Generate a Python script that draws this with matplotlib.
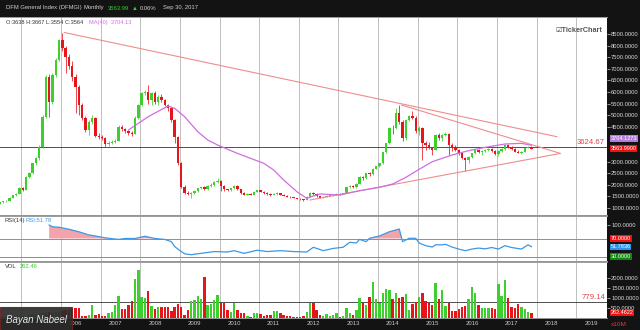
import numpy as np
import matplotlib.pyplot as plt
from matplotlib.patches import Rectangle
from matplotlib.transforms import blended_transform_factory

plt.rcParams['font.family'] = ['Liberation Sans', 'DejaVu Sans']

# monthly bars, month 0 = Apr 2004, last = Sep 2017
opens = [1190, 1240, 1280, 1310, 1440, 1540, 1610, 1860, 1790, 2350, 2490, 2920, 3140, 3640, 4940, 6660,
         5580, 6730, 7400, 8240, 7900, 7500, 7100, 6660, 6230, 5440, 4860, 4360, 4700, 4860, 4100, 4070,
         4000, 3750, 3800, 3850, 3900, 4500, 4400, 4300, 4250, 4200, 4900, 5440, 5940, 6010, 5650, 5940,
         5580, 5800, 5650, 5440, 5290, 4790, 4070, 2920, 1920, 1650, 1600, 1650, 1720, 1850, 1900, 1820,
         1950, 2000, 2100, 2180, 1950, 1800, 1780, 1850, 1950, 1800, 1650, 1580, 1620, 1580, 1700, 1760,
         1700, 1650, 1600, 1560, 1600, 1640, 1580, 1520, 1480, 1460, 1430, 1400, 1380, 1350, 1480, 1650,
         1600, 1500, 1450, 1480, 1520, 1540, 1580, 1620, 1600, 1640, 1900, 1950, 1900, 2050, 2350, 2280,
         2500, 2450, 2700, 2800, 2920, 3400, 3790, 4450, 4430, 5100, 4700, 4000, 4800, 4950, 4900, 4300,
         4450, 3790, 3700, 3600, 3500, 4150, 4000, 4150, 4200, 3700, 3600, 3500, 3350, 3150, 3050, 3200,
         3350, 3500, 3400, 3450, 3500, 3560, 3470, 3330, 3450, 3530, 3700, 3640, 3560, 3430, 3390, 3420,
         3600, 3638]
highs = [1260, 1295, 1335, 1470, 1570, 1650, 1890, 1910, 2390, 2560, 2960, 3200, 3700, 5020, 6720, 6780,
         6820, 7460, 8300, 8560, 8000, 7620, 7320, 6760, 6320, 5520, 4960, 4810, 5010, 4920, 4220, 4160,
         4080, 3880, 3920, 3990, 4560, 4580, 4460, 4380, 4300, 4950, 5480, 5980, 6100, 6300, 5980, 6040,
         5850, 5900, 5700, 5500, 5330, 4850, 4120, 3000, 2000, 1720, 1680, 1760, 1880, 1960, 1940, 1990,
         2060, 2150, 2300, 2210, 1990, 1840, 1880, 1990, 1970, 1830, 1680, 1650, 1640, 1730, 1790, 1780,
         1720, 1680, 1630, 1630, 1670, 1660, 1600, 1550, 1510, 1480, 1450, 1420, 1400, 1500, 1700, 1680,
         1630, 1530, 1500, 1540, 1560, 1600, 1640, 1640, 1660, 1920, 1980, 1970, 2080, 2380, 2400, 2520,
         2560, 2730, 2830, 2960, 3420, 3820, 4480, 4560, 5300, 5440, 4780, 4850, 5000, 5200, 4950, 4550,
         4480, 3900, 3850, 3650, 4200, 4250, 4180, 4280, 4250, 3780, 3700, 3560, 3400, 3200, 3250, 3380,
         3550, 3540, 3480, 3540, 3600, 3580, 3500, 3480, 3580, 3740, 3750, 3680, 3600, 3480, 3450, 3620,
         3660, 3667]
lows = [1170, 1225, 1260, 1295, 1420, 1515, 1600, 1750, 1780, 2290, 2460, 2870, 3090, 3590, 4880, 4940,
        5480, 6640, 7340, 7780, 6800, 6980, 6480, 5080, 5020, 4780, 4280, 4140, 4640, 4040, 3990, 3940,
        3640, 3680, 3740, 3790, 3880, 4330, 4220, 4150, 4120, 4180, 4850, 5400, 5850, 5500, 5450, 5500,
        5420, 5580, 5380, 5200, 4720, 3780, 2850, 1880, 1610, 1560, 1430, 1600, 1690, 1800, 1760, 1790,
        1900, 1960, 2060, 1750, 1740, 1720, 1750, 1820, 1780, 1620, 1540, 1550, 1550, 1560, 1680, 1670,
        1620, 1570, 1530, 1540, 1580, 1560, 1500, 1460, 1440, 1410, 1380, 1360, 1300, 1330, 1460, 1580,
        1480, 1420, 1430, 1460, 1500, 1520, 1560, 1580, 1590, 1630, 1870, 1860, 1880, 2030, 2220, 2260,
        2400, 2430, 2680, 2780, 2900, 3380, 3770, 4200, 4400, 4600, 3900, 3950, 4750, 4850, 4250, 4150,
        3050, 3500, 3550, 3300, 3480, 3950, 3900, 4100, 3300, 3450, 3450, 3280, 3100, 2600, 2950, 3150,
        3320, 3350, 3300, 3420, 3470, 3420, 3300, 3250, 3420, 3500, 3600, 3520, 3400, 3350, 3330, 3400,
        3570, 3554]
closes = [1240, 1280, 1310, 1440, 1540, 1610, 1860, 1790, 2350, 2490, 2920, 3140, 3640, 4940, 6660, 5580,
          6730, 7400, 8240, 7900, 7500, 7100, 6660, 6230, 5440, 4860, 4360, 4700, 4860, 4100, 4070, 4000,
          3750, 3800, 3850, 3900, 4500, 4400, 4300, 4250, 4200, 4900, 5440, 5940, 6010, 5650, 5940, 5580,
          5800, 5650, 5440, 5290, 4790, 4070, 2920, 1920, 1650, 1600, 1650, 1720, 1850, 1900, 1820, 1950,
          2000, 2100, 2180, 1950, 1800, 1780, 1850, 1950, 1800, 1650, 1580, 1620, 1580, 1700, 1760, 1700,
          1650, 1600, 1560, 1600, 1640, 1580, 1520, 1480, 1460, 1430, 1400, 1380, 1350, 1480, 1650, 1600,
          1500, 1450, 1480, 1520, 1540, 1580, 1620, 1600, 1640, 1900, 1950, 1900, 2050, 2350, 2280, 2500,
          2450, 2700, 2800, 2920, 3400, 3790, 4450, 4430, 5100, 4700, 4000, 4800, 4950, 4900, 4300, 4450,
          3790, 3700, 3600, 3500, 4150, 4000, 4150, 4200, 3700, 3600, 3500, 3350, 3150, 3050, 3200, 3350,
          3500, 3400, 3450, 3500, 3560, 3470, 3330, 3450, 3530, 3700, 3640, 3560, 3430, 3390, 3420, 3600,
          3638, 3564]
# volume in units of 10M shares
volumes = [30, 40, 35, 50, 60, 70, 90, 80, 120, 150, 200, 180, 220, 260, 300, 280,
           250, 300, 320, 350, 380, 400, 450, 480, 480, 100, 100, 150, 650, 150, 180, 120,
           100, 270, 320, 650, 1100, 450, 450, 650, 870, 1930, 2400, 1070, 980, 1350, 600, 450,
           530, 570, 570, 570, 370, 570, 700, 530, 150, 400, 870, 900, 1100, 930, 2070, 650,
           700, 900, 1150, 730, 770, 400, 320, 770, 400, 270, 230, 100, 30, 270, 270, 200,
           100, 130, 130, 330, 330, 270, 150, 100, 100, 70, 70, 70, 100, 320, 730, 730,
           400, 150, 100, 200, 100, 150, 230, 30, 100, 480, 270, 150, 400, 980, 730, 650,
           1030, 1780, 930, 730, 1230, 1430, 1400, 930, 1270, 980, 1070, 1200, 400, 700, 820, 1070,
           1230, 870, 770, 650, 1770, 930, 1400, 600, 730, 370, 370, 430, 530, 600, 930, 1530,
           1230, 650, 480, 480, 480, 480, 450, 1680, 1100, 1900, 1020, 530, 480, 700, 530, 450,
           320, 262.46]

ma_months = [39, 45, 51, 53, 56, 60, 63, 66, 72, 80, 83, 86, 90, 93, 95, 97, 103, 109, 115, 119,
             123, 127, 131, 137, 142, 147, 153, 158, 161]
ma_values = [4360, 4936, 5396, 5295, 4936, 4289, 3930, 3714, 3355, 2924, 2637, 2205, 1703, 1415, 1516,
             1603, 1560, 1746, 1890, 2034, 2321, 2666, 2996, 3284, 3471, 3614, 3758, 3787, 3704.13]

rsi_months = [15, 16, 18, 21, 24, 27, 29, 31, 33, 36, 38, 41, 44, 47, 50, 52, 53, 55, 56, 58, 61, 65,
              69, 71, 74, 78, 81, 85, 89, 93, 95, 98, 101, 104, 106, 108, 109, 111, 112, 115, 118, 121,
              122, 124, 126, 127, 129, 130, 131, 132, 134, 135, 137, 139, 141, 143, 145, 147, 149, 151,
              153, 155, 158, 160, 161]
rsi_values = [100, 96, 95, 90.5, 85, 78, 75.6, 72.7, 70.5, 68, 70, 70, 75, 70, 68, 63, 52, 41, 36, 34,
              37, 41, 40, 43, 37, 44, 41, 43, 41, 40, 50.5, 43, 48, 50.5, 61.6, 60, 68, 63, 70.5, 75.6,
              85, 91, 63, 70.5, 70.5, 60, 54, 52.6, 51, 56, 56, 57, 51, 46.5, 42.8, 46.5, 48.7, 47, 50,
              46.5, 54, 50, 46.5, 56, 51.78]

# drawn trend lines: (month, price) end points
trend_upper = [(19.6, 8564), (168.7, 4074)]
trend_upper2 = [(121.7, 5439), (169.7, 3356)]
trend_lower = [(94.0, 1345), (169.7, 3349)]
price_level = 3624.67
vol_level = 779.14

# right scale ticks; 3500 and 4000 sit under the last-value tags
price_ticks = [1000, 1500, 2000, 2500, 3000, 4500, 5000, 5500, 6000, 6500, 7000, 7500, 8000, 8500]
years = list(range(2005, 2020))

GREEN = '#3ccf2e'
RED = '#e8141c'
TREND = '#f08c8c'
GRID = '#b4b4b4'
XLIM = (0.12, 183.9)


def setup_panel(ax, ylim):
    ax.set_facecolor('white')
    ax.set_xlim(*XLIM)
    ax.set_ylim(*ylim)
    for side in ['left', 'right']:
        ax.spines[side].set_visible(False)
    for side in ['top', 'bottom']:
        ax.spines[side].set_color('#9a9a9a')
        ax.spines[side].set_linewidth(0.7)
    ax.set_xticks([])
    ax.yaxis.tick_right()
    ax.tick_params(axis='y', direction='out', length=2, width=0.5, color='#cfcfcf',
                   labelcolor='#d8d8d8', labelsize=4.2, pad=1)
    # year separators
    for k in range(len(years)):
        ax.axvline(6.6 + 12 * k, color=GRID, lw=0.6, zorder=0)


def value_box(ax, value, text, bg, fg='white'):
    tr = blended_transform_factory(ax.transAxes, ax.transData)
    ax.text(1.006, value, text, transform=tr, ha='left', va='center', fontsize=4.0, color=fg,
            clip_on=False, zorder=10,
            bbox=dict(boxstyle='square,pad=0.12', facecolor=bg, edgecolor='none'))


def draw_price(ax):
    setup_panel(ax, (698, 9232))
    ax.set_yticks(price_ticks)
    ax.yaxis.set_major_formatter(plt.FormatStrFormatter('%.4f'))
    m = np.arange(len(closes))
    o = np.array(opens)
    c = np.array(closes)
    up = c >= o
    colors = np.where(up, GREEN, RED)
    ax.vlines(m, lows, highs, colors=colors, lw=0.55, zorder=2)
    ax.bar(m, np.abs(c - o), bottom=np.minimum(o, c), width=0.72, color=colors, lw=0, zorder=3)

    for line in [trend_upper, trend_upper2, trend_lower]:
        xs, ys = zip(*line)
        ax.plot(xs, ys, color=TREND, lw=0.8, zorder=4)
    ax.plot(ma_months, ma_values, color='#cf6ee0', lw=0.9, zorder=5)
    ax.axhline(price_level, color='#333333', lw=0.6, zorder=1)
    tr = blended_transform_factory(ax.transAxes, ax.transData)
    ax.text(0.997, price_level + 60, '{:.2f}'.format(price_level), transform=tr, ha='right',
            va='bottom', fontsize=5.6, color='#e0474c')

    value_box(ax, closes[-1] + 430, '3704.1273', '#b77be0')
    value_box(ax, closes[-1], '3563.9900', '#ee1111')

    ax.text(0.01, 0.985, 'O:3638 H:3667 L:3554 C:3564', transform=ax.transAxes, fontsize=4.1,
            color='#333333', va='top')
    ax.text(0.147, 0.985, 'MA(40)  3704.13', transform=ax.transAxes, fontsize=4.1,
            color='#cf6ee0', va='top')
    ax.text(0.993, 0.93, '\u2611TickerChart', transform=ax.transAxes, fontsize=5.2,
            color='#555555', fontweight='bold', ha='right', va='center')


def draw_rsi(ax):
    setup_panel(ax, (20, 120))
    ax.set_yticks([100])
    ax.yaxis.set_major_formatter(plt.FormatStrFormatter('%.4f'))
    x = np.array(rsi_months, dtype=float)
    r = np.array(rsi_values)
    ax.axhline(70, color='#e66a6a', lw=0.7, zorder=1)
    ax.axhline(30, color='#56b356', lw=0.7, zorder=1)
    ax.fill_between(x, r, 70, where=r >= 70, interpolate=True, color='#f5a3aa', lw=0, zorder=2)
    ax.plot(x, r, color='#3a98e6', lw=0.9, zorder=3)
    value_box(ax, 70, '70.0000', '#ee1111')
    value_box(ax, rsi_values[-1], '51.7836', '#2f93e8')
    value_box(ax, 30, '30.0000', '#118811')
    ax.text(0.008, 0.96, 'RSI(14)', transform=ax.transAxes, fontsize=4.2, color='#333333', va='top')
    ax.text(0.042, 0.96, 'RSI:51.78', transform=ax.transAxes, fontsize=4.2, color='#3a98e6', va='top')


def draw_volume(ax):
    setup_panel(ax, (0, 2800))
    ax.set_yticks([500, 1000, 1500, 2000])
    ax.yaxis.set_major_formatter(plt.FormatStrFormatter('%.4f'))
    m = np.arange(len(volumes))
    up = np.array(closes) >= np.array(opens)
    ax.bar(m, volumes, width=0.72, color=np.where(up, GREEN, RED), lw=0, zorder=2)
    ax.axhline(vol_level, color='#333333', lw=0.6, zorder=1)
    tr = blended_transform_factory(ax.transAxes, ax.transData)
    ax.text(0.997, vol_level + 60, '{:.2f}'.format(vol_level), transform=tr, ha='right',
            va='bottom', fontsize=5.6, color='#e0474c')
    value_box(ax, volumes[-1], '262.4622', '#ee1111')
    ax.text(1.006, -0.12, 'x10M', transform=ax.transAxes, fontsize=4.6, color='#ee3333',
            ha='left', va='center')
    ax.text(0.008, 0.97, 'VOL', transform=ax.transAxes, fontsize=4.2, color='#333333', va='top')
    ax.text(0.032, 0.97, '262.46', transform=ax.transAxes, fontsize=4.2, color=GREEN, va='top')

    # year labels on the dark strip under the chart (2005 sits under the signature box)
    tr = blended_transform_factory(ax.transData, ax.transAxes)
    for y in years[1:]:
        ax.text(9 + 12 * (y - 2005), -0.1, str(y), transform=tr, fontsize=4.3, color='#c9c9c9',
                ha='left', va='center', clip_on=False)


def main():
    fig = plt.figure(figsize=(6.4, 3.3), dpi=100)
    fig.patch.set_facecolor('#131313')
    w = 607 / 640
    ax_price = fig.add_axes([0, 115 / 330, w, 198 / 330])
    ax_rsi = fig.add_axes([0, 69 / 330, w, 45 / 330])
    ax_vol = fig.add_axes([0, 12 / 330, w, 56 / 330])

    draw_price(ax_price)
    draw_rsi(ax_rsi)
    draw_volume(ax_vol)

    # header strip
    y = 1 - 8 / 330
    fig.text(0.009, y, 'DFM General Index (DFMGI)', fontsize=4.2, color='#d0d0d0', va='center')
    fig.text(0.131, y, 'Monthly', fontsize=4.2, color='#d0d0d0', va='center')
    fig.text(0.169, y, '3563.99', fontsize=4.2, color='#2ed12e', va='center')
    fig.text(0.206, y, '\u25b2', fontsize=4.2, color='#2ed12e', va='center')
    fig.text(0.219, y, '0.06%', fontsize=4.2, color='#d0d0d0', va='center')
    fig.text(0.255, y, 'Sep 30, 2017', fontsize=4.2, color='#d0d0d0', va='center')

    # signature box in the lower left corner
    fig.patches.append(Rectangle((0, 0), 72 / 640, 23 / 330, transform=fig.transFigure,
                                 facecolor='#2b2b2b', edgecolor='#6a2424', lw=0.8, alpha=0.92,
                                 zorder=20))
    fig.text(36 / 640, 10 / 330, 'Bayan Nabeel', fontsize=7, style='italic', color='#e8e8e8',
             ha='center', va='center', zorder=21)

    fig.savefig('out.png', dpi=100, facecolor=fig.get_facecolor())


if __name__ == '__main__':
    main()
